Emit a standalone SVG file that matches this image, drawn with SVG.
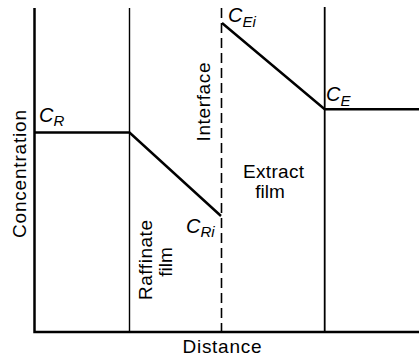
<svg xmlns="http://www.w3.org/2000/svg" width="419" height="357" viewBox="0 0 419 357">
<style>
.ln{stroke:#000;fill:none;stroke-linecap:butt}
.thick{stroke-width:2.5}
.thin{stroke-width:1.4}
.t{font-family:"Liberation Sans",Arial,sans-serif;font-size:19px;fill:#000}
.c{font-family:"Liberation Sans",Arial,sans-serif;font-style:italic;font-size:20px;fill:#000}
.s{font-size:15px}
</style>
<rect width="419" height="357" fill="#fff"/>
<g id="axes">
<path class="ln thick" d="M34.5 8 V332 H419"/>
</g>
<g id="boundaries">
<line class="ln thin" x1="129.5" y1="8" x2="129.5" y2="332"/>
<line class="ln" stroke-width="1.6" x1="221.5" y1="8" x2="221.5" y2="332" stroke-dasharray="10 5"/>
<line class="ln" stroke-width="1.8" x1="324.7" y1="7" x2="324.7" y2="332"/>
</g>
<g id="connectors">
<path class="ln thick" d="M35 132.5 H129.5 L221 216"/>
<path class="ln thick" d="M222 23 L324.7 109.3 H419"/>
</g>
<g id="labels">
<text class="c" x="39" y="122">C<tspan class="s" dy="4">R</tspan></text>
<text class="c" x="186" y="233">C<tspan class="s" dy="4">Ri</tspan></text>
<text class="c" x="228" y="22">C<tspan class="s" dy="5">Ei</tspan></text>
<text class="c" x="326" y="101">C<tspan class="s" dy="5">E</tspan></text>
<text class="t" transform="translate(26 174) rotate(-90)" text-anchor="middle" textLength="128">Concentration</text>
<text class="t" transform="translate(210 102) rotate(-90)" text-anchor="middle" textLength="79">Interface</text>
<text class="t" transform="translate(152 260) rotate(-90)" text-anchor="middle" textLength="80">Raffinate</text>
<text class="t" transform="translate(172 262) rotate(-90)" text-anchor="middle">film</text>
<text class="t" x="273.5" y="178" text-anchor="middle" textLength="61">Extract</text>
<text class="t" x="270" y="198" text-anchor="middle">film</text>
<text class="t" x="222" y="353" text-anchor="middle" textLength="79">Distance</text>
</g>
</svg>
